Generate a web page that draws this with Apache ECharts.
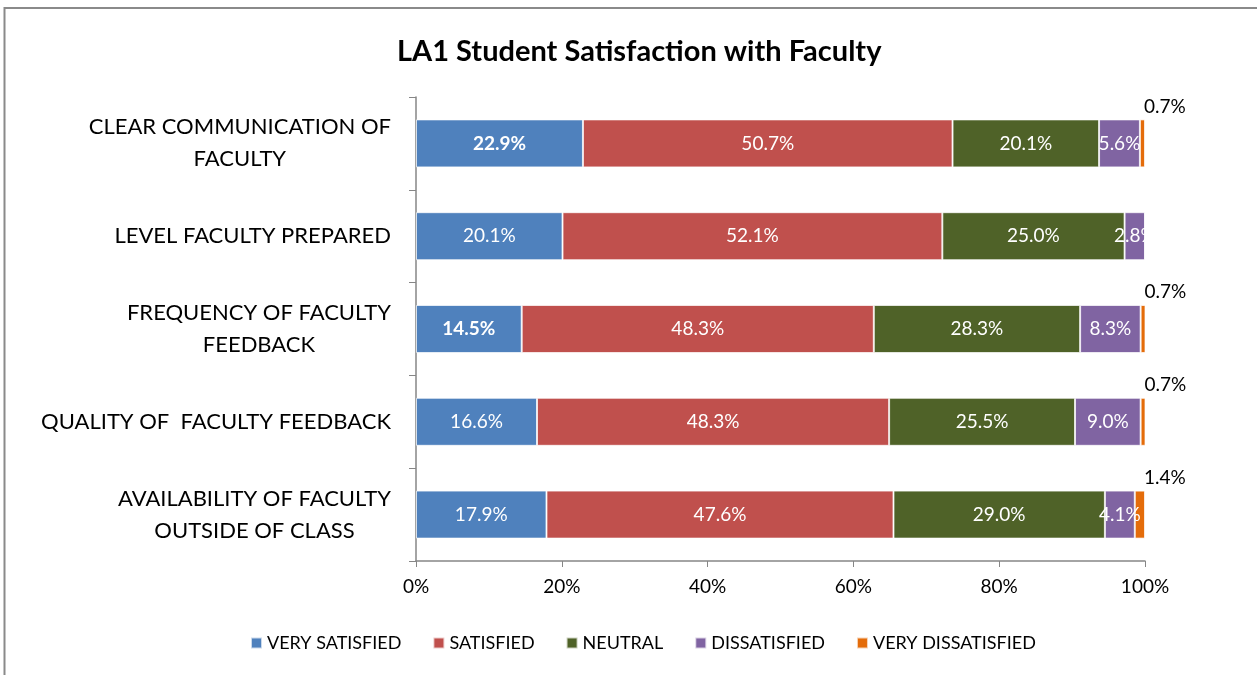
<!DOCTYPE html>
<html>
<head>
<meta charset="utf-8">
<title>LA1 Student Satisfaction with Faculty</title>
<script src="https://cdn.jsdelivr.net/npm/echarts@6/dist/echarts.min.js"></script>
<style>
  html, body { margin: 0; padding: 0; background: #fff; }
  #chart { width: 1257px; height: 675px; }
</style>
</head>
<body>
<div id="chart"></div>
<script>
// categories, top to bottom
const categories = [
  'CLEAR COMMUNICATION OF\nFACULTY',
  'LEVEL FACULTY PREPARED',
  'FREQUENCY OF FACULTY\nFEEDBACK',
  'QUALITY OF  FACULTY FEEDBACK',
  'AVAILABILITY OF FACULTY\nOUTSIDE OF CLASS'
]
const seriesNames = ['VERY SATISFIED', 'SATISFIED', 'NEUTRAL', 'DISSATISFIED', 'VERY DISSATISFIED']
const verySatisfied    = [22.9, 20.1, 14.5, 16.6, 17.9]
const satisfied        = [50.7, 52.1, 48.3, 48.3, 47.6]
const neutral          = [20.1, 25.0, 28.3, 25.5, 29.0]
const dissatisfied     = [5.6, 2.8, 8.3, 9.0, 4.1]
const veryDissatisfied = [0.7, 0, 0.7, 0.7, 1.4]
const xTicks = [0, 20, 40, 60, 80, 100]

const colors = ['#4F81BD', '#C0504D', '#4F6228', '#8064A2', '#E46C0A']
const FONT = 'Lato'

const chart = echarts.init(document.getElementById('chart'))

// category axis runs bottom-up, so feed it reversed
const cats = categories.slice().reverse()
const values = [verySatisfied, satisfied, neutral, dissatisfied, veryDissatisfied]
// the two bold labels in the original
const boldIdx = { 0: [0, 2] }

const series = values.map((vals, s) => {
  const rev = vals.slice().reverse()
  const n = vals.length
  return {
    name: seriesNames[s],
    type: 'bar',
    stack: 'all',
    barWidth: 48,
    itemStyle: { color: colors[s], borderColor: 'rgba(255,255,255,0.7)', borderWidth: 1 },
    label: s === 4 ? {
      show: true,
      position: ['100%', 0],
      offset: [-1, -13],
      align: 'left',
      verticalAlign: 'middle',
      color: '#000',
      fontFamily: FONT,
      fontSize: 19,
      formatter: p => p.value ? p.value.toFixed(1) + '%' : ''
    } : {
      show: true,
      position: 'inside',
      color: '#fff',
      fontFamily: FONT,
      fontSize: 19,
      formatter: p => p.value ? p.value.toFixed(1) + '%' : ''
    },
    data: rev.map((v, i) => {
      const orig = n - 1 - i
      if (boldIdx[s] && boldIdx[s].includes(orig)) {
        return { value: v, label: { fontWeight: 'bold' } }
      }
      return v
    })
  }
})

const option = {
  backgroundColor: '#fff',
  animation: false,
  color: colors,
  title: {
    text: 'LA1 Student Satisfaction with Faculty',
    left: 392,
    top: 32,
    textStyle: { fontFamily: FONT, fontSize: 29, fontWeight: 'bold', color: '#000' }
  },
  graphic: [{
    type: 'rect',
    shape: { x: 4.5, y: 8, width: 1300, height: 700 },
    style: { fill: 'none', stroke: '#8a8a8a', lineWidth: 2 },
    silent: true
  }],
  legend: {
    data: seriesNames,
    top: 629,
    left: 245,
    icon: 'rect',
    itemWidth: 11,
    itemHeight: 11,
    itemGap: 31,
    textStyle: { fontFamily: FONT, fontSize: 18, color: '#000' }
  },
  grid: { left: 416, right: 112, top: 97, bottom: 114, containLabel: false },
  xAxis: {
    type: 'value',
    min: 0,
    max: 100,
    interval: 20,
    axisLine: { show: true, lineStyle: { color: '#868686', width: 1.5 } },
    axisTick: { show: true, length: 6, lineStyle: { color: '#868686' } },
    splitLine: { show: false },
    axisLabel: {
      margin: 16,
      fontFamily: FONT,
      fontSize: 19,
      color: '#000',
      formatter: v => xTicks.includes(v) ? v + '%' : ''
    }
  },
  yAxis: {
    type: 'category',
    data: cats,
    axisLine: { show: true, lineStyle: { color: '#868686', width: 1.5 } },
    axisTick: { show: true, length: 7, inside: false, lineStyle: { color: '#868686' } },
    axisLabel: {
      margin: 25,
      fontFamily: FONT,
      fontSize: 22,
      color: '#000',
      lineHeight: 32,
      align: 'right',
      formatter: v => v.split('\n').map(l => '{c|' + l + '}').join('\n'),
      rich: { c: { align: 'center', fontFamily: FONT, fontSize: 22, lineHeight: 32, color: '#000' } }
    }
  },
  series: series
}

chart.setOption(option)
</script>
</body>
</html>
